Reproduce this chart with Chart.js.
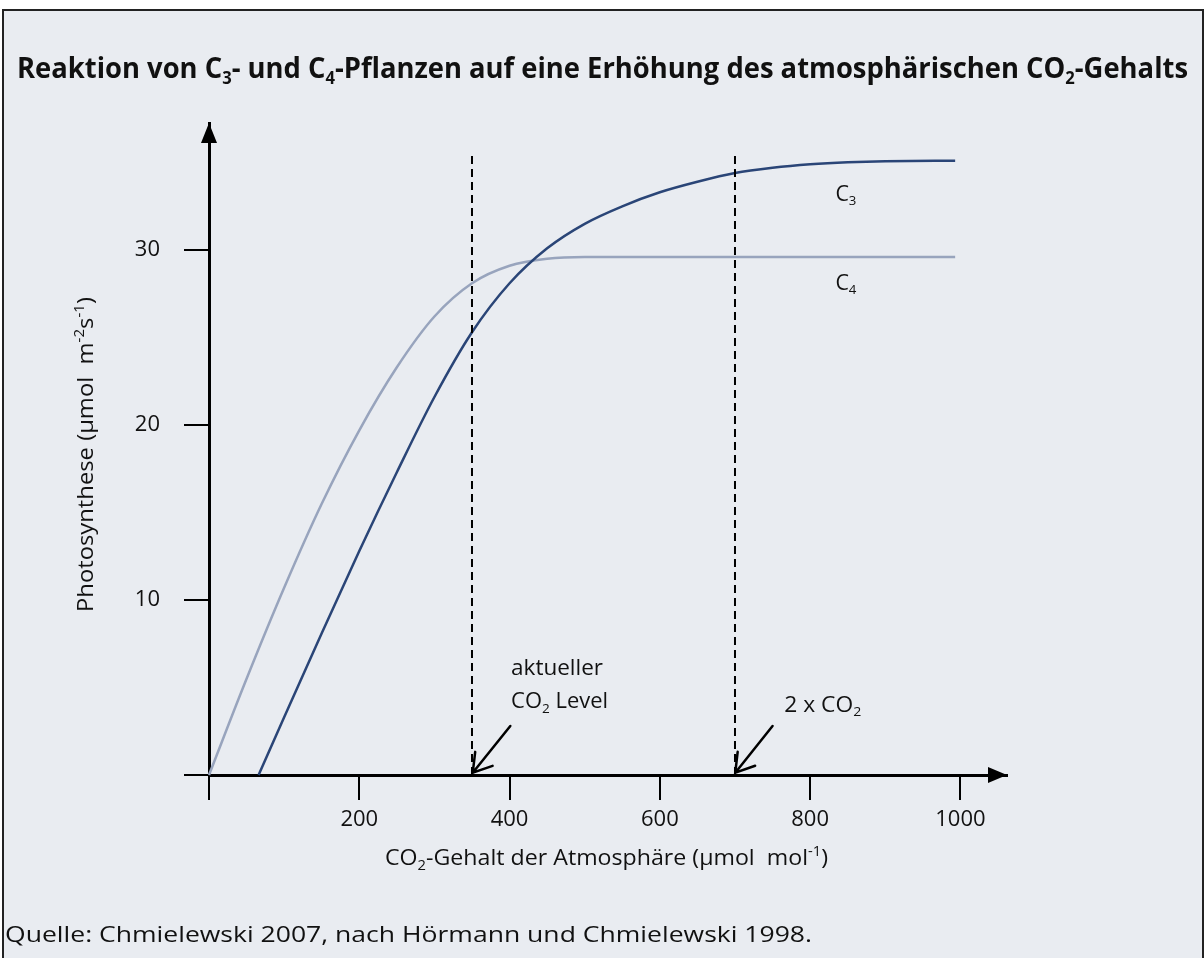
<!DOCTYPE html>
<html><head><meta charset="utf-8">
<script src="https://cdn.jsdelivr.net/npm/chart.js@4.4.0/dist/chart.umd.min.js"></script>
<style>html,body{margin:0;padding:0;background:#fff;overflow:hidden}canvas{display:block}</style>
</head><body>
<canvas id="c" width="1204" height="958"></canvas>
<script>
// ---- data ----
const co2C3   = [66, 100, 150, 200, 250, 300, 350, 400, 450, 500, 550, 600, 650, 700, 750, 800, 850, 900, 993];
const photoC3 = [0, 3.3, 8.1, 12.8, 17.3, 21.6, 25.3, 28.1, 30.1, 31.5, 32.5, 33.3, 33.9, 34.4, 34.7, 34.9, 35.02, 35.08, 35.1];
const co2C4   = [0, 50, 100, 150, 200, 250, 300, 350, 400, 450, 500, 600, 993];
const photoC4 = [0, 5.5, 10.7, 15.5, 19.7, 23.3, 26.2, 28.1, 29.1, 29.5, 29.6, 29.6, 29.6];
const xTicks = [0, 200, 400, 600, 800, 1000];
const yTicks = [0, 10, 20, 30];
const referenceLevels = [350, 700];   // aktueller CO2 Level, 2 x CO2
const referenceTop = 35.4;
const xMax = 1062, yMax = 37.26;

// annotation anchors in data units
const annotArrows = [
  {from: [401, 2.8], to: [351, 0.13]},
  {from: [750, 2.8], to: [700.4, 0.13]}
];
const annotTexts = [
  {parts: [{t: 'C'}, {t: '3', sub: 1}], at: [833.6, 32.83], width: 21},
  {parts: [{t: 'C'}, {t: '4', sub: 1}], at: [833.6, 27.74], width: 21},
  {parts: [{t: 'aktueller'}], at: [402, 5.71], width: 92},
  {parts: [{t: 'CO'}, {t: '2', sub: 1}, {t: ' Level'}], at: [402, 3.81], width: 97},
  {parts: [{t: '2 x CO'}, {t: '2', sub: 1}], at: [765.6, 3.62], width: 77}
];

const FONT = "'Open Sans', 'DejaVu Sans', sans-serif";
const BG = '#e9ecf1';

function drawRich(ctx, parts, x, y, o) {
  const s = o.size, w8 = o.weight || 'normal';
  const fontFor = p => `${w8} ${(p.sub || p.sup) ? Math.round(s * 0.62) : s}px ${FONT}`;
  let total = 0;
  const widths = parts.map(p => { ctx.font = fontFor(p); const w = ctx.measureText(p.t).width; total += w; return w; });
  ctx.save();
  ctx.translate(x, y);
  if (o.rotate) ctx.rotate(o.rotate);
  const sx = o.width ? o.width / total : 1;
  ctx.scale(sx, 1);
  let cx = o.align === 'center' ? -total / 2 : 0;
  ctx.fillStyle = o.color || '#111';
  ctx.textBaseline = 'alphabetic';
  ctx.textAlign = 'left';
  parts.forEach((p, i) => {
    ctx.font = fontFor(p);
    const dy = p.sub ? s * 0.22 : p.sup ? -s * 0.42 : 0;
    ctx.fillText(p.t, cx, dy);
    cx += widths[i];
  });
  ctx.restore();
}

const bgPlugin = {
  id: 'bg',
  beforeDraw(chart) {
    const ctx = chart.ctx;
    ctx.save();
    ctx.fillStyle = '#fff';
    ctx.fillRect(0, 0, chart.width, chart.height);
    ctx.fillStyle = BG;
    ctx.fillRect(3, 10, 1200, 960);
    ctx.strokeStyle = '#222';
    ctx.lineWidth = 2;
    ctx.beginPath();
    ctx.moveTo(3, 960); ctx.lineTo(3, 10); ctx.lineTo(1203, 10); ctx.lineTo(1203, 960);
    ctx.stroke();
    ctx.restore();
  }
};

const annotPlugin = {
  id: 'annot',
  afterDatasetsDraw(chart) {
    const ctx = chart.ctx, xs = chart.scales.x, ys = chart.scales.y;
    ctx.save();
    ctx.strokeStyle = '#000';
    ctx.lineWidth = 2.5;
    ctx.lineCap = 'round';
    annotArrows.forEach(a => {
      const x1 = xs.getPixelForValue(a.from[0]), y1 = ys.getPixelForValue(a.from[1]);
      const x2 = xs.getPixelForValue(a.to[0]), y2 = ys.getPixelForValue(a.to[1]);
      const ang = Math.atan2(y1 - y2, x1 - x2), L = 21, spread = 0.56;
      ctx.beginPath();
      ctx.moveTo(x1, y1); ctx.lineTo(x2, y2);
      ctx.moveTo(x2 + L * Math.cos(ang + spread), y2 + L * Math.sin(ang + spread));
      ctx.lineTo(x2, y2);
      ctx.lineTo(x2 + L * Math.cos(ang - spread), y2 + L * Math.sin(ang - spread));
      ctx.stroke();
    });
    ctx.restore();
    annotTexts.forEach(t => {
      drawRich(ctx, t.parts, xs.getPixelForValue(t.at[0]), ys.getPixelForValue(t.at[1]), {size: 21, width: t.width, color: '#111'});
    });
  },
  afterDraw(chart) {
    const ctx = chart.ctx, a = chart.chartArea;
    ctx.save();
    ctx.fillStyle = '#000';
    // y-axis arrowhead
    ctx.beginPath();
    ctx.moveTo(a.left, a.top); ctx.lineTo(a.left - 8, a.top + 20); ctx.lineTo(a.left + 8, a.top + 20); ctx.closePath();
    ctx.fill();
    // x-axis arrowhead
    ctx.beginPath();
    ctx.moveTo(a.right, a.bottom); ctx.lineTo(a.right - 19, a.bottom - 8); ctx.lineTo(a.right - 19, a.bottom + 8); ctx.closePath();
    ctx.fill();
    ctx.restore();
    // title
    drawRich(ctx, [{t: 'Reaktion von C'}, {t: '3', sub: 1}, {t: '- und C'}, {t: '4', sub: 1},
      {t: '-Pflanzen auf eine Erhöhung des atmosphärischen CO'}, {t: '2', sub: 1}, {t: '-Gehalts'}],
      17, 78, {size: 28, weight: 'bold', width: 1171, color: '#111'});
    // axis titles
    drawRich(ctx, [{t: 'CO'}, {t: '2', sub: 1}, {t: '-Gehalt der Atmosphäre (µmol  mol'}, {t: '-1', sup: 1}, {t: ')'}],
      385, 865, {size: 22, width: 443, color: '#111'});
    drawRich(ctx, [{t: 'Photosynthese (µmol  m'}, {t: '-2', sup: 1}, {t: 's'}, {t: '-1', sup: 1}, {t: ')'}],
      93, 612, {size: 22, width: 315, rotate: -Math.PI / 2, color: '#111'});
    // footer
    drawRich(ctx, [{t: 'Quelle: Chmielewski 2007, nach Hörmann und Chmielewski 1998.'}],
      5, 942, {size: 21, width: 807, color: '#111'});
  }
};

const pts = (xs, ys) => xs.map((x, i) => ({x, y: ys[i]}));

const datasets = referenceLevels.map(v => ({
  label: 'ref' + v, data: [{x: v, y: 0}, {x: v, y: referenceTop}],
  borderColor: '#000', borderWidth: 2, borderDash: [8, 5], pointRadius: 0, order: 0, clip: false
}));
datasets.push({label: 'C3', data: pts(co2C3, photoC3), borderColor: '#2a4577', borderWidth: 2.5,
  pointRadius: 0, cubicInterpolationMode: 'monotone', order: 1, clip: false});
datasets.push({label: 'C4', data: pts(co2C4, photoC4), borderColor: '#98a4bd', borderWidth: 2.5,
  pointRadius: 0, cubicInterpolationMode: 'monotone', order: 2, clip: false});

const tickFont = {family: FONT, size: 22};

new Chart(document.getElementById('c'), {
  type: 'line',
  data: {datasets},
  options: {
    responsive: false, animation: false, devicePixelRatio: 1,
    layout: {padding: {left: 0, top: 123, right: 197, bottom: 0}},
    plugins: {legend: {display: false}, tooltip: {enabled: false}},
    scales: {
      x: {
        type: 'linear', min: 0, max: xMax,
        afterBuildTicks: s => { s.ticks = xTicks.map(v => ({value: v})); },
        afterFit: s => { s.height = 183; },
        border: {display: true, color: '#000', width: 3},
        grid: {drawOnChartArea: false, drawTicks: true, tickLength: 25, color: '#000', lineWidth: 2},
        ticks: {callback: v => v === 0 ? '' : String(v), font: tickFont, color: '#111', padding: 7, maxRotation: 0, autoSkip: false}
      },
      y: {
        type: 'linear', min: 0, max: yMax,
        afterBuildTicks: s => { s.ticks = yTicks.map(v => ({value: v})); },
        afterFit: s => { s.width = 209; },
        border: {display: true, color: '#000', width: 3},
        grid: {drawOnChartArea: false, drawTicks: true, tickLength: 25, color: '#000', lineWidth: 2},
        ticks: {callback: v => v === 0 ? '' : String(v), font: tickFont, color: '#111', padding: 24, autoSkip: false}
      }
    }
  },
  plugins: [bgPlugin, annotPlugin]
});
</script>
</body></html>
